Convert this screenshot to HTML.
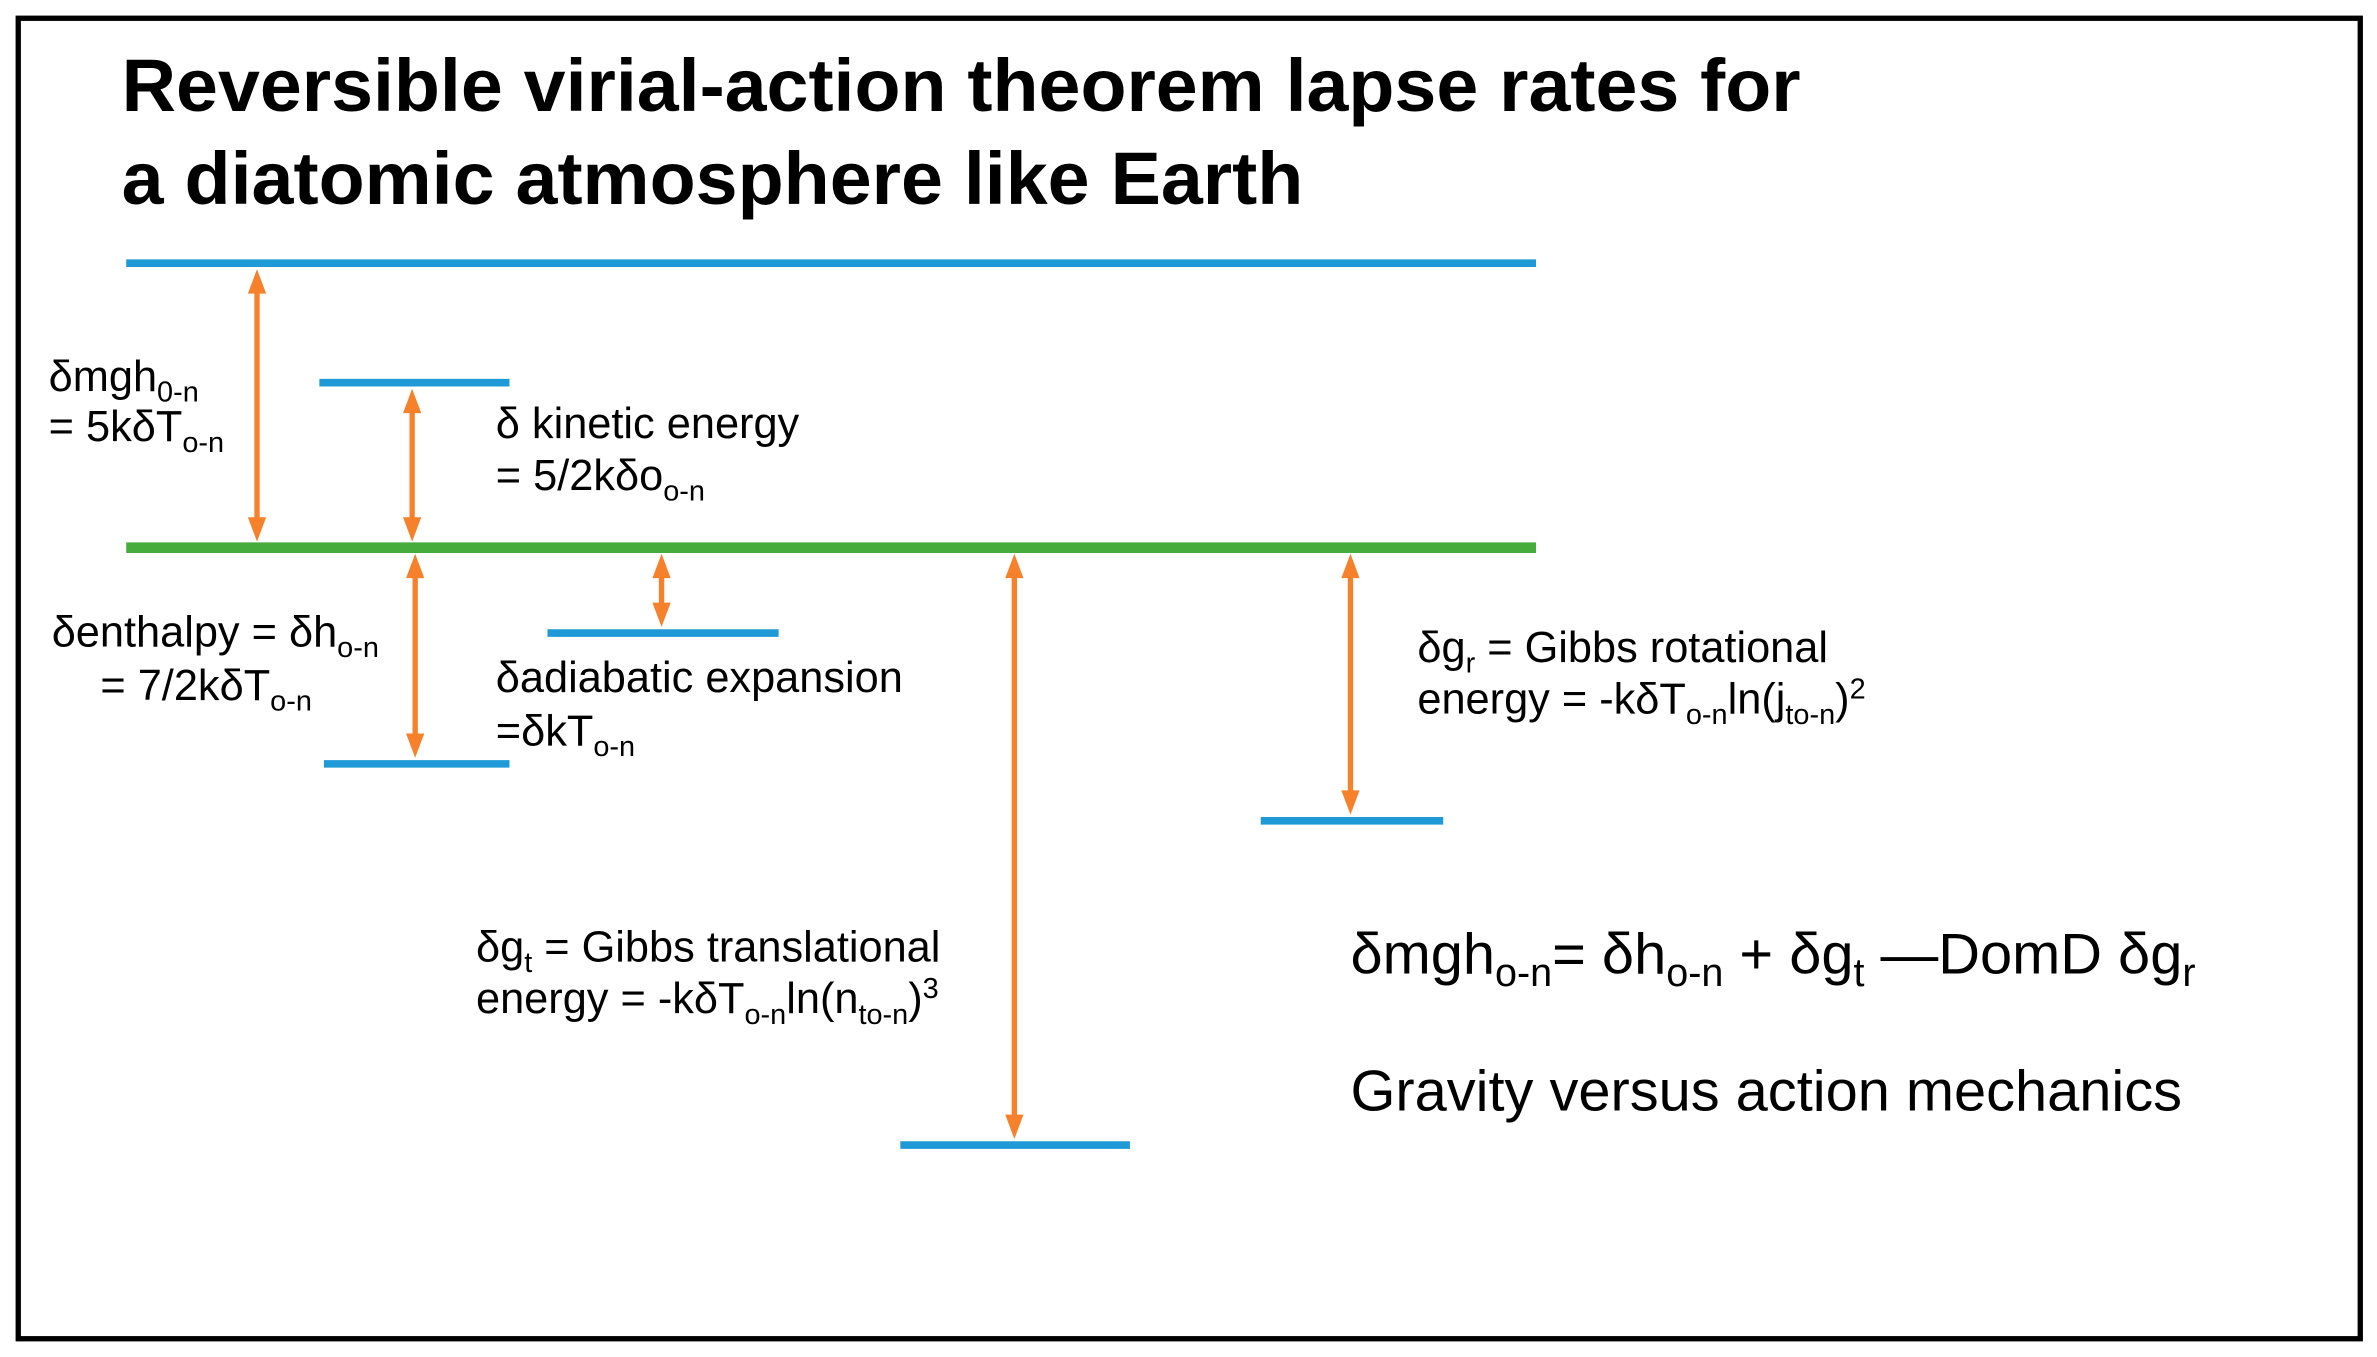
<!DOCTYPE html>
<html><head><meta charset="utf-8"><style>
html,body{margin:0;padding:0;background:#fff;}
svg{display:block;}
text{font-family:"Liberation Sans",Arial,sans-serif;fill:#000;}
</style></head><body>
<svg id="c" width="2377" height="1357" viewBox="0 0 1563 892" preserveAspectRatio="none" xmlns="http://www.w3.org/2000/svg">
<rect x="12" y="12" width="1540" height="868" fill="none" stroke="#000" stroke-width="3.5"/>
<text x="80" y="73" font-size="49" font-weight="bold" textLength="1104" lengthAdjust="spacingAndGlyphs">Reversible virial-action theorem lapse rates for</text>
<text x="80" y="134" font-size="49" font-weight="bold" textLength="777" lengthAdjust="spacingAndGlyphs">a diatomic atmosphere like Earth</text>
<g id="levels"></g>
<g id="arrows"></g>
<g font-size="28.5">
<text x="32" y="257">δmgh<tspan font-size="19" dy="7">0-n</tspan></text>
<text x="32" y="290">= 5kδT<tspan font-size="19" dy="7">o-n</tspan></text>
<text x="326" y="288">δ kinetic energy</text>
<text x="326" y="322">= 5/2kδo<tspan font-size="19" dy="7">o-n</tspan></text>
<text x="34" y="425">δenthalpy = δh<tspan font-size="19" dy="7">o-n</tspan></text>
<text x="66" y="460">= 7/2kδT<tspan font-size="19" dy="7">o-n</tspan></text>
<text x="326" y="455">δadiabatic expansion</text>
<text x="326" y="490">=δkT<tspan font-size="19" dy="7">o-n</tspan></text>
<text x="932" y="435">δg<tspan font-size="19" dy="7">r</tspan><tspan dy="-7"> = Gibbs rotational</tspan></text>
<text x="932" y="469">energy = -kδT<tspan font-size="19" dy="7">o-n</tspan><tspan dy="-7">ln(j</tspan><tspan font-size="19" dy="7">to-n</tspan><tspan dy="-7">)</tspan><tspan font-size="19" dy="-10">2</tspan></text>
<text x="313" y="632">δg<tspan font-size="19" dy="7">t</tspan><tspan dy="-7"> = Gibbs translational</tspan></text>
<text x="313" y="666">energy = -kδT<tspan font-size="19" dy="7">o-n</tspan><tspan dy="-7">ln(n</tspan><tspan font-size="19" dy="7">to-n</tspan><tspan dy="-7">)</tspan><tspan font-size="19" dy="-10">3</tspan></text>
</g>
<g font-size="38">
<text x="888" y="640">δmgh<tspan font-size="26" dy="8">o-n</tspan><tspan dy="-8">= δh</tspan><tspan font-size="26" dy="8">o-n</tspan><tspan dy="-8"> + δg</tspan><tspan font-size="26" dy="8">t</tspan><tspan dy="-8">  —DomD δg</tspan><tspan font-size="26" dy="8">r</tspan></text>
<text x="888" y="730">Gravity versus action mechanics</text>
</g>
</svg>
<script>
// energy levels relative to reference (green) level, in kδT units
var levelNames = ["top-level","reference-level","kinetic-level","enthalpy-level","adiabatic-level","gibbs-trans-level","gibbs-rot-level"];
var levelValues = [5, 0, 2.9, -3.8, -1.5, -10.5, -4.8];
var levelX0 = [83, 83, 210, 213, 360, 592, 829];
var levelX1 = [1010, 1010, 335, 335, 512, 743, 949];
// arrows: from level value to level value
var arrowFrom = [0, 0, 0, 0, 0, 0];
var arrowTo = [5, 2.9, -3.8, -1.5, -10.5, -4.8];
var arrowNames = ["mgh-arrow","kinetic-arrow","enthalpy-arrow","adiabatic-arrow","gibbs-trans-arrow","gibbs-rot-arrow"];
var arrowX = [169, 271, 273, 435, 667, 888];

var Y0 = 360, UNIT = 37.4;
function yScale(v){ return Y0 - v*UNIT; }
var NS = "http://www.w3.org/2000/svg";
var lg = document.getElementById("levels");
for (var i=0;i<levelValues.length;i++){
  var l = document.createElementNS(NS,"line");
  var yy = yScale(levelValues[i]);
  l.setAttribute("x1",levelX0[i]); l.setAttribute("x2",levelX1[i]);
  l.setAttribute("y1",yy); l.setAttribute("y2",yy);
  l.setAttribute("stroke", levelValues[i]===0 ? "#46ac3c" : "#1f9ad6");
  l.setAttribute("stroke-width", levelValues[i]===0 ? 7 : 5);
  
  
  lg.appendChild(l);
}
var ag = document.getElementById("arrows");
function head(x,y,dir){
  var p = document.createElementNS(NS,"polygon");
  p.setAttribute("points", x+","+y+" "+(x-6)+","+(y+dir*16)+" "+(x+6)+","+(y+dir*16));
  p.setAttribute("fill","#f7812a");
  return p;
}
for (var j=0;j<arrowTo.length;j++){
  var g = document.createElementNS(NS,"g");
  
  
  var ya = yScale(arrowFrom[j]), yb = yScale(arrowTo[j]);
  var yTop = Math.min(ya,yb)+4, yBot = Math.max(ya,yb)-4;
  var ax = arrowX[j];
  var ln = document.createElementNS(NS,"line");
  ln.setAttribute("x1",ax); ln.setAttribute("x2",ax);
  ln.setAttribute("y1",yTop+12); ln.setAttribute("y2",yBot-12);
  ln.setAttribute("stroke","#f7812a"); ln.setAttribute("stroke-width",3.5);
  g.appendChild(ln);
  g.appendChild(head(ax,yTop,1));
  g.appendChild(head(ax,yBot,-1));
  ag.appendChild(g);
}
</script>
</body></html>
